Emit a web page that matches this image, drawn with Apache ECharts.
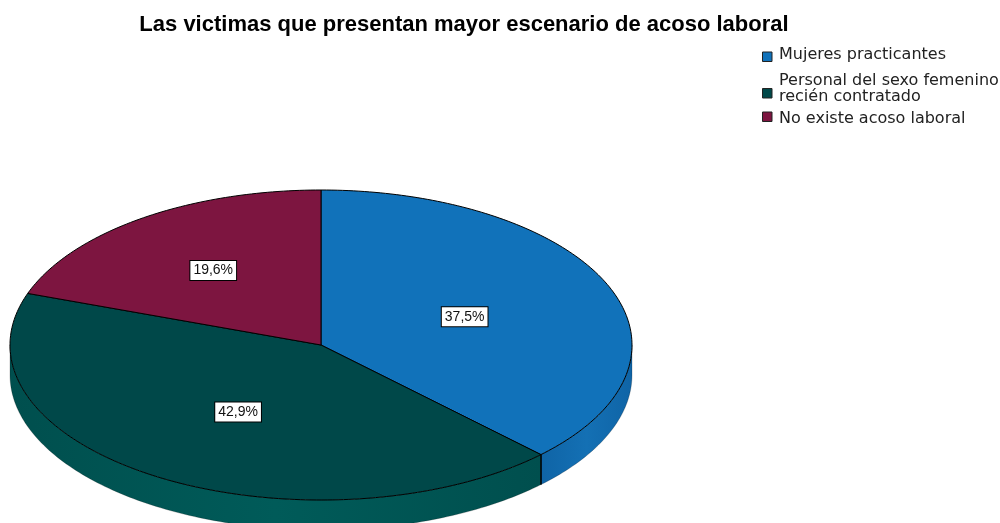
<!DOCTYPE html>
<html>
<head>
<meta charset="utf-8">
<script src="https://cdn.jsdelivr.net/npm/echarts@6/dist/echarts.min.js"></script>
<style>
  html, body { margin: 0; padding: 0; background: #fff; }
  #chart { width: 1000px; height: 523px; }
</style>
</head>
<body>
<div id="chart"></div>
<script>
// Categories and their shares (percent of respondents)
const categories = [
  'Mujeres practicantes',
  'Personal del sexo femenino\nrecién contratado',
  'No existe acoso laboral'
];
const percentages = [37.5, 42.9, 19.6];

// Slice colours: top face and the two ends of the side shading
const topColors = ['#1172ba', '#004849', '#7d1540'];
const sideColors = [['#0f64a6', '#1470b4'], ['#004f4e', '#005b59'], ['#6c1237', '#7d1540']];

// Tilted pie geometry (pixels)
const PIE = { cx: 321, cy: 345, rx: 311, ry: 155, depth: 30 };

const total = percentages.reduce((a, b) => a + b, 0);

// Start/end angle of a slice, measured clockwise from 12 o'clock
function sliceAngles(i) {
  let s = 0;
  for (let k = 0; k < i; k++) s += percentages[k];
  return [s / total * 2 * Math.PI, (s + percentages[i]) / total * 2 * Math.PI];
}
function pt(t, dy) {
  return [PIE.cx + PIE.rx * Math.sin(t), PIE.cy - PIE.ry * Math.cos(t) + (dy || 0)];
}
function arc(a0, a1, dy) {
  const n = Math.max(2, Math.ceil((a1 - a0) / (Math.PI / 180)));
  const pts = [];
  for (let j = 0; j <= n; j++) pts.push(pt(a0 + (a1 - a0) * j / n, dy));
  return pts;
}
function fmt(v) {
  return v.toFixed(1).replace('.', ',') + '%';
}

// Visible rim of each slice (front half of the ellipse)
function renderSide(params, api) {
  const i = params.dataIndex;
  const [a0, a1] = sliceAngles(i);
  const s = Math.max(a0, Math.PI / 2);
  const e = Math.min(a1, 3 * Math.PI / 2);
  const children = [];
  if (e > s) {
    const top = arc(s, e, 0);
    const bottom = arc(s, e, PIE.depth).reverse();
    children.push({
      type: 'polygon',
      shape: { points: top.concat(bottom) },
      style: {
        fill: new echarts.graphic.LinearGradient(0, 0, 1, 0, [
          { offset: 0, color: sideColors[i][0] },
          { offset: 0.5, color: sideColors[i][1] },
          { offset: 1, color: sideColors[i][0] }
        ]),
        stroke: 'rgba(0,0,0,0.35)',
        lineWidth: 0.6
      }
    });
    [a0, a1].forEach(function (a) {
      if (a > Math.PI / 2 && a < 3 * Math.PI / 2) {
        const p = pt(a, 0);
        children.push({
          type: 'line',
          shape: { x1: p[0], y1: p[1], x2: p[0], y2: p[1] + PIE.depth },
          style: { stroke: '#000', lineWidth: 1.2 }
        });
      }
    });
  }
  return { type: 'group', children: children };
}

// Top face of each slice with its percentage label
function renderTop(params, api) {
  const i = params.dataIndex;
  const v = api.value(0);
  const [a0, a1] = sliceAngles(i);
  const pts = [[PIE.cx, PIE.cy]].concat(arc(a0, a1, 0));
  const mid = (a0 + a1) / 2;
  const f = v / total < 0.25 ? 0.6 : 0.5;
  const lx = PIE.cx + PIE.rx * f * Math.sin(mid);
  const ly = PIE.cy - PIE.ry * f * Math.cos(mid) + 1.5;
  return {
    type: 'group',
    children: [
      {
        type: 'polygon',
        shape: { points: pts },
        style: { fill: topColors[i], stroke: '#000', lineWidth: 1 }
      },
      {
        type: 'text',
        x: lx,
        y: ly,
        z2: 10,
        style: {
          text: fmt(v),
          align: 'center',
          verticalAlign: 'middle',
          fill: '#111',
          font: '14px "Liberation Sans", Arial, sans-serif',
          backgroundColor: '#fff',
          borderColor: '#000',
          borderWidth: 1,
          padding: [3, 3, 2, 3]
        }
      }
    ]
  };
}

// Legend entries built from the category list
const legendMarkY = [56.5, 93, 116.5];
const legendTextY = [55, 89, 119];
const legendGraphics = [];
categories.forEach(function (name, i) {
  legendGraphics.push({
    type: 'rect',
    shape: { x: 762.5, y: legendMarkY[i] - 4.5, width: 9.5, height: 9.5 },
    style: { fill: topColors[i], stroke: '#222', lineWidth: 1 }
  });
  legendGraphics.push({
    type: 'text',
    x: 779,
    y: legendTextY[i],
    style: {
      text: name,
      fill: '#222',
      font: '16px "DejaVu Sans", sans-serif',
      verticalAlign: 'middle',
      lineHeight: 16.5
    }
  });
});

const chart = echarts.init(document.getElementById('chart'), null, { renderer: 'canvas' });
chart.setOption({
  animation: false,
  backgroundColor: '#fff',
  title: {
    text: 'Las victimas que presentan mayor escenario de acoso laboral',
    left: 459,
    top: 9,
    textAlign: 'center',
    textStyle: {
      fontFamily: '"Liberation Sans", Arial, sans-serif',
      fontWeight: 'bold',
      fontSize: 22,
      color: '#000'
    }
  },
  graphic: legendGraphics,
  series: [
    {
      type: 'custom',
      name: 'rim',
      coordinateSystem: 'none',
      z: 1,
      silent: true,
      data: percentages,
      renderItem: renderSide
    },
    {
      type: 'custom',
      name: 'top',
      coordinateSystem: 'none',
      z: 2,
      silent: true,
      data: percentages,
      renderItem: renderTop
    }
  ]
});
</script>
</body>
</html>
